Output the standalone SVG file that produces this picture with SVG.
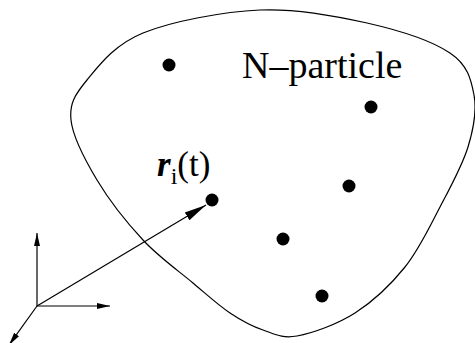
<svg xmlns="http://www.w3.org/2000/svg" width="475" height="343" viewBox="0 0 475 343">
<style>
.ln{stroke:#000;stroke-width:1.2;fill:none}
.dot{fill:#000}
.t{font-family:"Liberation Serif","Times New Roman",serif;fill:#000}
</style>
<defs>
<marker id="big" markerUnits="userSpaceOnUse" markerWidth="24" markerHeight="12" refX="22" refY="5" orient="auto" viewBox="0 0 24 10">
<path d="M0,0.5 L22,5 L0,9.5 Z" fill="#000"/>
</marker>
<marker id="small" markerUnits="userSpaceOnUse" markerWidth="14" markerHeight="8" refX="13" refY="3" orient="auto" viewBox="0 0 14 6">
<path d="M0,0 L13,3 L0,6 Z" fill="#000"/>
</marker>
</defs>
<g id="region">
<path class="ln" d="M71,120 C69.3,103.3 75,94.5 87,80 C99,65.5 114.2,44.7 143,33 C171.8,21.3 222.7,11.7 260,10 C297.3,8.3 335.3,15.8 367,23 C398.7,30.2 432.2,41 450,53 C467.8,65 471,79.3 474,95 C477,110.7 473.7,128.3 468,147 C462.3,165.7 450.5,187 440,207 C429.5,227 419.2,249.3 405,267 C390.8,284.7 373,301.5 355,313 C337,324.5 312.3,333.2 297,336 C281.7,338.8 274.2,333.8 263,330 C251.8,326.2 241.7,320.8 230,313 C218.3,305.2 207.5,295.2 193,283 C178.5,270.8 159,257.2 143,240 C127,222.8 109,200 97,180 C85,160 72.7,136.7 71,120 Z"/>
</g>
<g id="particles">
<circle class="dot" cx="169" cy="65" r="6.5"/>
<circle class="dot" cx="371" cy="107" r="6.5"/>
<circle class="dot" cx="349" cy="186" r="6.5"/>
<circle class="dot" cx="212" cy="200" r="6.5"/>
<circle class="dot" cx="283" cy="239" r="6.5"/>
<circle class="dot" cx="322" cy="296" r="6.5"/>
</g>
<g id="labels">
<text class="t" x="242" y="78" font-size="38">N–particle</text>
<text class="t" x="157" y="176" font-size="35"><tspan font-weight="bold" font-style="italic">r</tspan><tspan font-size="24" dy="8">i</tspan><tspan dy="-8">(t)</tspan></text>
</g>
<g id="connectors">
<line class="ln" x1="37" y1="306" x2="206" y2="205" marker-end="url(#big)"/>
<line class="ln" x1="37" y1="306" x2="37" y2="233" marker-end="url(#small)"/>
<line class="ln" x1="37" y1="306" x2="110" y2="306" marker-end="url(#small)"/>
<line class="ln" x1="37" y1="306" x2="9" y2="345" marker-end="url(#small)"/>
</g>
</svg>
